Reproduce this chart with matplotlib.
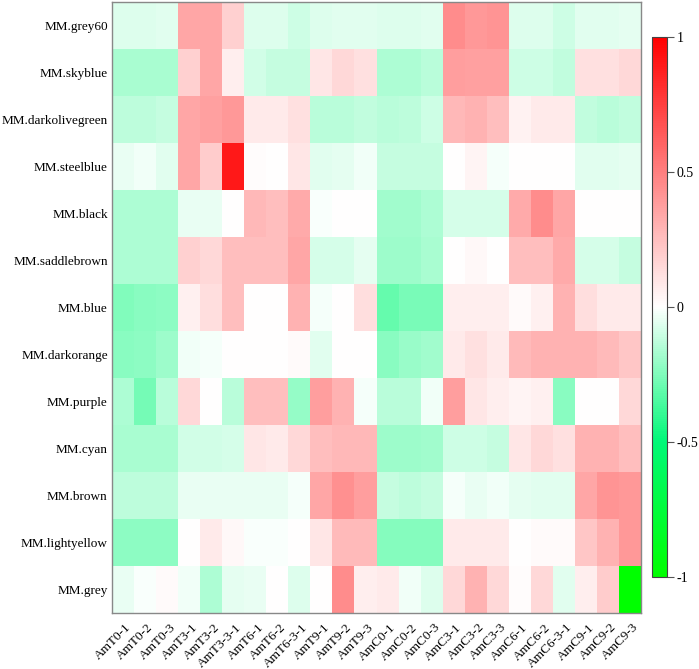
import numpy as np
import matplotlib
matplotlib.use('Agg')
import matplotlib.pyplot as plt
from matplotlib.colors import LinearSegmentedColormap

plt.rcParams['font.family'] = ['Liberation Serif', 'DejaVu Serif']

modules = ['MM.grey60', 'MM.skyblue', 'MM.darkolivegreen', 'MM.steelblue', 'MM.black',
           'MM.saddlebrown', 'MM.blue', 'MM.darkorange', 'MM.purple', 'MM.cyan',
           'MM.brown', 'MM.lightyellow', 'MM.grey']
samples = ['AmT0-1', 'AmT0-2', 'AmT0-3', 'AmT3-1', 'AmT3-2', 'AmT3-3-1',
           'AmT6-1', 'AmT6-2', 'AmT6-3-1', 'AmT9-1', 'AmT9-2', 'AmT9-3',
           'AmC0-1', 'AmC0-2', 'AmC0-3', 'AmC3-1', 'AmC3-2', 'AmC3-3',
           'AmC6-1', 'AmC6-2', 'AmC6-3-1', 'AmC9-1', 'AmC9-2', 'AmC9-3']

# correlation values, one row per module
grey60 = [-0.07, -0.07, -0.06, 0.35, 0.35, 0.18, -0.07, -0.07, -0.1, -0.07, -0.06, -0.06,
          -0.07, -0.07, -0.06, 0.45, 0.4, 0.42, -0.07, -0.07, -0.1, -0.06, -0.06, -0.05]
skyblue = [-0.17, -0.17, -0.17, 0.18, 0.35, 0.07, -0.09, -0.11, -0.11, 0.1, 0.15, 0.12,
           -0.16, -0.16, -0.14, 0.38, 0.37, 0.37, -0.1, -0.1, -0.12, 0.12, 0.12, 0.15]
darkolivegreen = [-0.13, -0.13, -0.11, 0.35, 0.37, 0.4, 0.08, 0.08, 0.12, -0.14, -0.14, -0.12,
                  -0.14, -0.13, -0.1, 0.28, 0.3, 0.25, 0.05, 0.08, 0.08, -0.12, -0.14, -0.12]
steelblue = [-0.04, -0.03, -0.06, 0.35, 0.2, 0.9, 0.01, 0.0, 0.1, -0.06, -0.05, -0.03,
             -0.11, -0.11, -0.11, 0.0, 0.04, -0.02, 0.0, 0.0, 0.0, -0.06, -0.06, -0.05]
black = [-0.16, -0.16, -0.16, -0.04, -0.04, 0.0, 0.28, 0.25, 0.33, -0.01, 0.0, 0.0,
         -0.18, -0.18, -0.16, -0.08, -0.08, -0.08, 0.33, 0.45, 0.35, 0.0, 0.0, 0.0]
saddlebrown = [-0.16, -0.16, -0.16, 0.18, 0.15, 0.25, 0.25, 0.25, 0.35, -0.08, -0.08, -0.05,
               -0.19, -0.19, -0.17, 0.0, 0.03, 0.0, 0.25, 0.25, 0.33, -0.08, -0.08, -0.11]
blue = [-0.25, -0.23, -0.22, 0.06, 0.13, 0.25, 0.0, 0.0, 0.3, -0.02, 0.0, 0.13,
        -0.3, -0.26, -0.26, 0.07, 0.07, 0.07, 0.02, 0.06, 0.3, 0.13, 0.08, 0.08]
darkorange = [-0.23, -0.22, -0.19, -0.03, -0.02, 0.0, 0.0, 0.0, 0.02, -0.06, 0.0, 0.0,
              -0.23, -0.2, -0.18, 0.08, 0.12, 0.08, 0.27, 0.3, 0.3, 0.3, 0.27, 0.22]
purple = [-0.16, -0.27, -0.14, 0.15, 0.0, -0.14, 0.25, 0.25, -0.21, 0.38, 0.3, -0.02,
          -0.14, -0.14, -0.03, 0.38, 0.1, 0.07, 0.04, 0.06, -0.23, 0.0, 0.0, 0.15]
cyan = [-0.17, -0.17, -0.17, -0.09, -0.09, -0.08, 0.1, 0.08, 0.15, 0.25, 0.28, 0.28,
        -0.19, -0.19, -0.18, -0.1, -0.1, -0.11, 0.1, 0.15, 0.12, 0.3, 0.3, 0.25]
brown = [-0.13, -0.13, -0.13, -0.04, -0.04, -0.04, -0.04, -0.04, -0.02, 0.35, 0.43, 0.38,
         -0.11, -0.13, -0.11, -0.02, -0.04, -0.03, -0.05, -0.06, -0.06, 0.35, 0.42, 0.4]
lightyellow = [-0.22, -0.22, -0.22, 0.0, 0.08, 0.03, -0.01, -0.01, 0.0, 0.1, 0.27, 0.27,
               -0.24, -0.24, -0.24, 0.08, 0.08, 0.08, 0.0, 0.02, 0.02, 0.22, 0.3, 0.4]
grey = [-0.04, -0.01, 0.02, -0.03, -0.16, -0.05, -0.04, 0.0, -0.07, 0.0, 0.45, 0.07,
        0.08, -0.03, -0.07, 0.15, 0.3, 0.15, 0.01, 0.15, -0.06, 0.07, 0.2, -1.0]

values = np.array([grey60, skyblue, darkolivegreen, steelblue, black, saddlebrown, blue,
                   darkorange, purple, cyan, brown, lightyellow, grey])

cmap = LinearSegmentedColormap.from_list(
    'gwr', [(0.0, '#00FF00'), (0.25, '#00F878'), (0.5, '#FFFFFF'), (1.0, '#FF0000')])

fig = plt.figure(figsize=(6.99, 6.69), dpi=100)
W, H = 699, 669
ax = fig.add_axes([112 / W, (H - 613) / H, (641 - 112) / W, (613 - 2) / H])
mesh = ax.pcolormesh(values, cmap=cmap, vmin=-1, vmax=1)
ax.set_xlim(0, len(samples))
ax.set_ylim(len(modules), 0)
ax.set_xticks(np.arange(len(samples)) + 0.6)
ax.set_xticklabels(samples, rotation=45, ha='right', va='top', rotation_mode='anchor', fontsize=9.5)
ax.set_yticks(np.arange(len(modules)) + 0.5)
ax.set_yticklabels(modules, fontsize=9.5)
ax.tick_params(axis='y', length=0, pad=3)
ax.tick_params(axis='x', length=0, pad=6)
for s in ax.spines.values():
    s.set_color('#888888')
    s.set_linewidth(1)

cax = fig.add_axes([652 / W, (H - 577) / H, 15 / W, 540 / H])
cb = fig.colorbar(mesh, cax=cax, ticks=[-1, -0.5, 0, 0.5, 1])
cb.ax.set_yticklabels(['-1', '-0.5', '0', '0.5', '1'], fontsize=10)
cb.ax.tick_params(length=5, width=0.8, color='#555555', pad=2)
cb.outline.set_edgecolor('#444444')
cb.outline.set_linewidth(0.8)

fig.savefig('out.png', dpi=100)
